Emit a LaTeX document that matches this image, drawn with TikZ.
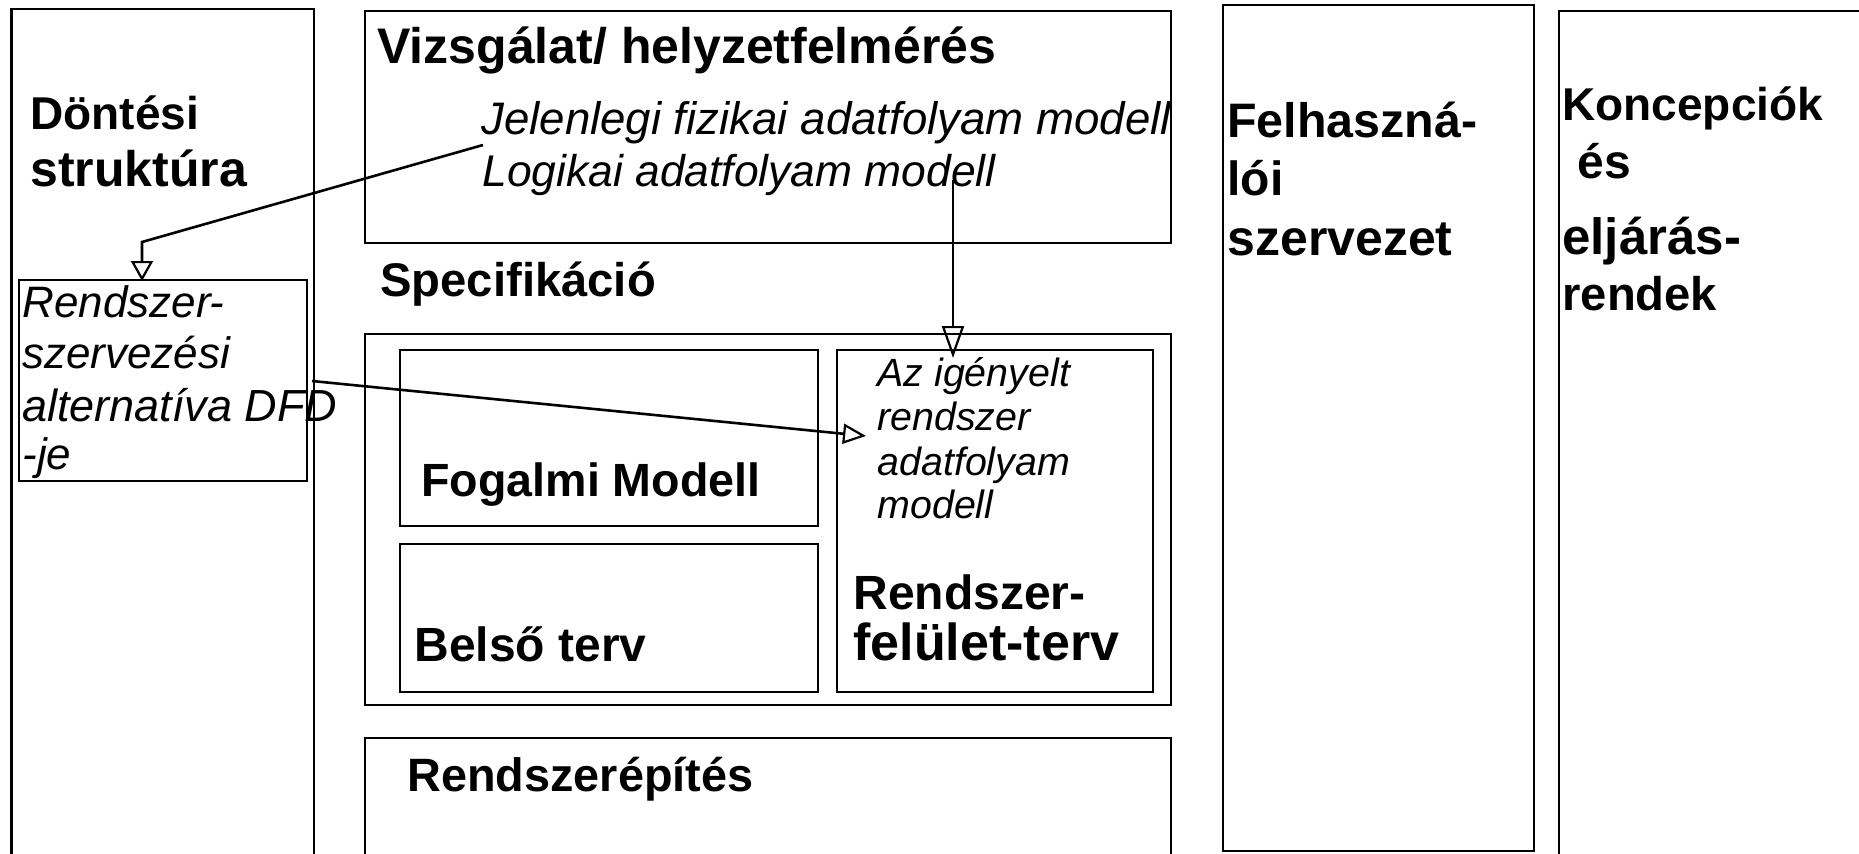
\documentclass[tikz,border=0pt]{standalone}
\usepackage{fontspec}
\setmainfont{Liberation Sans}
\usetikzlibrary{arrows.meta,fit}
\begin{document}
\begin{tikzpicture}[x=0.5pt,y=-0.5pt,
  box/.style={draw, line width=1.3pt, inner sep=0pt},
  bt/.style={anchor=base west, inner sep=0pt, font=\fontsize{#1pt}{#1pt}\selectfont\bfseries},
  it/.style={anchor=base west, inner sep=0pt, font=\fontsize{#1pt}{#1pt}\selectfont\itshape},
  conn/.style={line width=1.3pt},
  tipa/.style={-{Triangle[open, length=10pt, width=11pt, line width=1.1pt]}},
  tipb/.style={-{Triangle[open, length=11.5pt, width=10pt, line width=1.1pt]}},
  tipc/.style={-{Triangle[open, length=16pt, width=11pt, line width=1.1pt]}}]
\useasboundingbox (0,0) rectangle (1859,853);
\clip (0,0) rectangle (1859,853);
\fill[white] (0,0) rectangle (1859,853);
% boxes
\node[box, fit={(11.5,9) (314,900)}] (dont) {};
\node[box, fit={(365,11) (1171,243)}] (vizs) {};
\node[box, fit={(19,280) (307,481)}] (alt) {};
\node[box, fit={(365,334) (1171,705)}] (spec) {};
\node[box, fit={(400,350) (818,526)}] (fog) {};
\node[box, fit={(400,544) (818,692)}] (bels) {};
\node[box, fit={(837,350) (1153,692)}] (igeny) {};
\node[box, fit={(365,738) (1171,900)}] (rend) {};
\node[box, fit={(1223,5) (1534,851)}] (felh) {};
\node[box, fit={(1559,11) (1900,900)}] (konc) {};
% texts
\node[bt=23] (t1) at (30,129) {Döntési};
\node[bt=25] (t2) at (30,186) {struktúra};
\node[bt=25] (t3) at (377,63) {Vizsgálat/ helyzetfelmérés};
\node[it=22.8] (t4) at (481,134) {Jelenlegi fizikai adatfolyam modell};
\node[it=22.2] (t5) at (482,186) {Logikai adatfolyam modell};
\node[bt=23.6] (t6) at (380,296) {Specifikáció};
\node[it=22] (t7) at (22,317) {Rendszer-};
\node[it=22] (t8) at (22,368) {szervezési};
\node[it=22.5] (t9) at (22,421) {alternatíva DFD};
\node[it=22] (t10) at (22,469) {-je};
\node[bt=23.3] (t11) at (421,496) {Fogalmi Modell};
\node[bt=24] (t12) at (414,661) {Belső terv};
\node[it=19.7] (t13) at (877,386) {Az igényelt};
\node[it=19.7] (t14) at (877,430) {rendszer};
\node[it=19.7] (t15) at (877,475) {adatfolyam};
\node[it=19.7] (t16) at (877,518) {modell};
\node[bt=24] (t17) at (853,609) {Rendszer-};
\node[bt=26] (t18) at (853,660) {felület-terv};
\node[bt=23.4] (t19) at (407,791) {Rendszerépítés};
\node[bt=24.2] (t20) at (1227,137) {Felhaszná-};
\node[bt=24] (t21) at (1227,195) {lói};
\node[bt=25] (t22) at (1227,255) {szervezet};
\node[bt=23] (t23) at (1562,120) {Koncepciók};
\node[bt=24] (t24) at (1577,178) {és};
\node[bt=25.5] (t25) at (1562,254) {eljárás-};
\node[bt=23.6] (t26) at (1562,310) {rendek};
% connector points
\coordinate (a1s) at (483,145);
\coordinate (a1m) at (142,242);
\coordinate (a1e) at (142,281);
\coordinate (a2s) at (312,381);
\coordinate (a2e) at (866,436);
\coordinate (a3s) at (953,180);
\coordinate (a3e) at (953,358);
% connectors
\draw[conn, tipa] (a1s) -- (a1m) -- (a1e);
\draw[conn, tipb] (a2s) -- (a2e);
\draw[conn, tipc] (a3s) -- (a3e);
\end{tikzpicture}
\end{document}
